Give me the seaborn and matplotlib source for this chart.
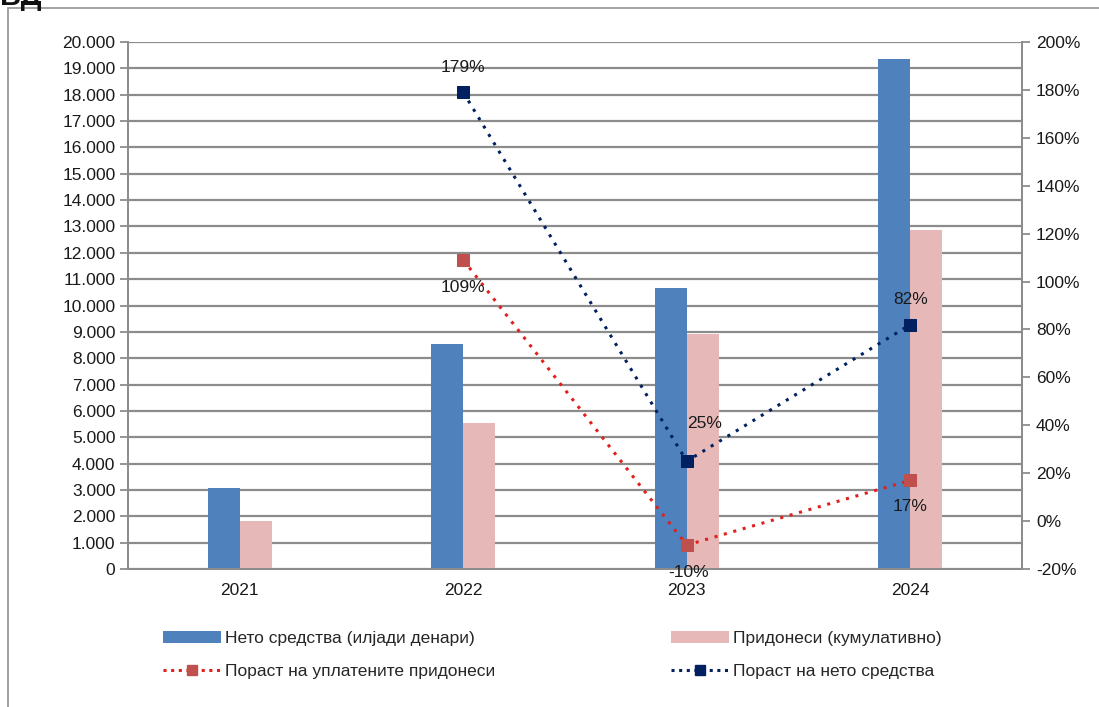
import numpy as np
import pandas as pd
import matplotlib
matplotlib.use("Agg")
import matplotlib.pyplot as plt
import matplotlib.ticker as mticker
from matplotlib.lines import Line2D
from matplotlib.patches import Patch, Rectangle
import seaborn as sns

# data
years = ["2021", "2022", "2023", "2024"]
net_assets = [3070, 8540, 10660, 19350]          # Нето средства (илјади денари)
contributions = [1820, 5540, 8920, 12870]        # Придонеси (кумулативно)
growth_contrib = [np.nan, 109, -10, 17]          # Пораст на уплатените придонеси, %
growth_assets = [np.nan, 179, 25, 82]            # Пораст на нето средства, %

bar_names = ["Нето средства (илјади денари)", "Придонеси (кумулативно)"]
line_names = ["Пораст на уплатените придонеси", "Пораст на нето средства"]

BLUE = "#4f81bd"
PINK = "#e6b9b8"
RED_LINE = "#e0201c"
RED_MARK = "#c0504d"
NAVY = "#002060"
GRID = "#8c8c8c"
TXT = "#1a1a1a"
FS = 12.5

sns.set_theme(style="white")
plt.rcParams["font.family"] = ["Liberation Sans", "DejaVu Sans"]
plt.rcParams["font.size"] = FS
plt.rcParams["xtick.labelsize"] = FS
plt.rcParams["ytick.labelsize"] = FS

df = pd.DataFrame({
    "year": years * 2,
    "value": net_assets + contributions,
    "series": [bar_names[0]] * 4 + [bar_names[1]] * 4,
})

W, H = 1099, 707
fig = plt.figure(figsize=(W / 100, H / 100), dpi=100)
ax = fig.add_axes([128 / W, 1 - 569 / H, (1022 - 128) / W, (569 - 42) / H])

sns.barplot(data=df, x="year", y="value", hue="series", order=years,
            hue_order=bar_names, palette=[BLUE, PINK], saturation=1,
            width=0.286, gap=0, linewidth=0, legend=False, ax=ax)

ax.set_ylim(0, 20000)
ax.set_xlim(-0.5, len(years) - 0.5)
ax.yaxis.set_major_locator(mticker.MultipleLocator(1000))
ax.yaxis.set_major_formatter(mticker.FuncFormatter(lambda v, p: f"{int(v):,}".replace(",", ".")))
ax.set_axisbelow(True)
ax.grid(axis="y", color=GRID, linewidth=1.6)
ax.set_xlabel("")
ax.set_ylabel("")
ax.xaxis.set_minor_locator(mticker.FixedLocator(np.arange(0.5, len(years) - 0.5, 1)))
ax.tick_params(axis="x", which="major", length=0, pad=10, colors=TXT, labelsize=FS)
ax.tick_params(axis="x", which="minor", length=5, width=1.3, color=GRID, direction="out")
ax.tick_params(axis="y", length=6, width=1.3, direction="out", left=True, pad=3, colors=TXT, labelsize=FS)
ax.tick_params(axis="y", color=GRID)
for s in ["left", "bottom", "right"]:
    ax.spines[s].set_color(GRID)
    ax.spines[s].set_linewidth(1.3)
ax.spines["top"].set_visible(False)

# growth lines on secondary axis
ax2 = ax.twinx()
xpos = np.arange(len(years))
lines_df = pd.DataFrame({"x": np.concatenate([xpos, xpos]),
                         "pct": growth_contrib + growth_assets,
                         "series": [line_names[0]] * 4 + [line_names[1]] * 4})
for name, lc, mc in [(line_names[0], RED_LINE, RED_MARK), (line_names[1], NAVY, NAVY)]:
    sub = lines_df[lines_df["series"] == name].dropna()
    sns.lineplot(data=sub, x="x", y="pct", ax=ax2, color=lc, linestyle=(0, (1, 2.2)),
                 linewidth=2.2, marker="s", markersize=8, markerfacecolor=mc,
                 markeredgecolor=mc, legend=False)

ax2.set_ylim(-20, 200)
ax2.set_xlim(-0.5, len(years) - 0.5)
ax2.yaxis.set_major_locator(mticker.MultipleLocator(20))
ax2.yaxis.set_major_formatter(mticker.FuncFormatter(lambda v, p: f"{int(round(v))}%"))
ax2.tick_params(axis="y", length=6, width=1.3, direction="out", pad=4, colors=TXT, labelsize=FS)
ax2.tick_params(axis="y", color=GRID)
ax2.set_ylabel("")
ax2.set_xlabel("")
for s in ["left", "bottom", "right"]:
    ax2.spines[s].set_color(GRID)
    ax2.spines[s].set_linewidth(1.3)
ax2.spines["top"].set_visible(False)

# value labels (offsets in points)
offsets_contrib = [None, (0, -20), (1, -20), (0, -19)]
offsets_assets = [None, (0, 18), (13, 27), (0, 18)]
for vals, offs in [(growth_contrib, offsets_contrib), (growth_assets, offsets_assets)]:
    for i, (v, o) in enumerate(zip(vals, offs)):
        if np.isnan(v):
            continue
        ax2.annotate(f"{int(v)}%", (i, v), xytext=o, textcoords="offset points",
                     ha="center", va="center", fontsize=FS, color=TXT)

# legend
handles = [
    Patch(facecolor=BLUE, edgecolor="none"),
    Line2D([], [], color=RED_LINE, linestyle=(0, (1, 1.5)), linewidth=2.2,
           marker="s", markersize=7, markerfacecolor=RED_MARK, markeredgecolor=RED_MARK),
    Patch(facecolor=PINK, edgecolor="none"),
    Line2D([], [], color=NAVY, linestyle=(0, (1, 1.5)), linewidth=2.2,
           marker="s", markersize=7, markerfacecolor=NAVY, markeredgecolor=NAVY),
]
labels = [bar_names[0], line_names[0], bar_names[1], line_names[1]]
fig.legend(handles, labels, ncol=2, loc="upper left",
           bbox_to_anchor=(147 / W, 1 - 615 / H), frameon=False,
           handlelength=3.35, handleheight=0.7, handletextpad=0.25,
           columnspacing=10.1, labelspacing=1.05, fontsize=FS)

# outer chart frame and clipped title fragment
fig.patches.append(Rectangle((8 / W, -0.01), 1.02, 1 - 8 / H + 0.01, transform=fig.transFigure,
                             fill=False, edgecolor="#9a9a9a", linewidth=1.3))
fig.text(0.0, 1 - 5 / H, "ВД", fontsize=21, fontweight="bold", va="baseline", ha="left",
         color="#111111", transform=fig.transFigure)

fig.savefig("out.png", dpi=100)
